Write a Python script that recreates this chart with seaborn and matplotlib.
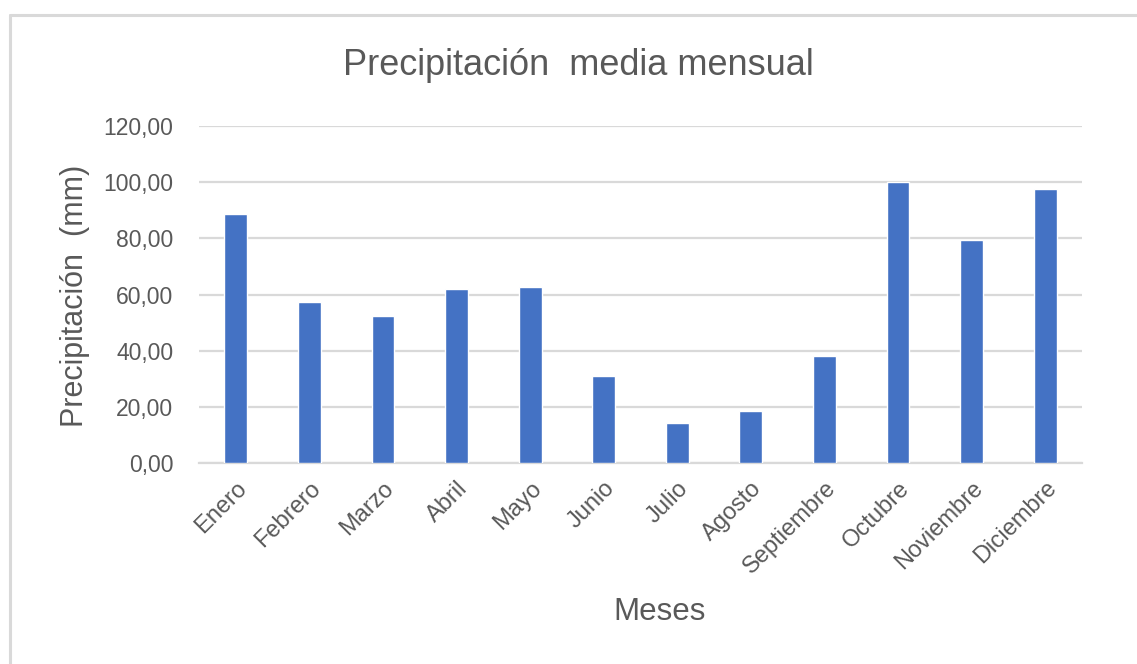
import matplotlib
matplotlib.use("Agg")
import matplotlib.pyplot as plt
from matplotlib import font_manager
from matplotlib.lines import Line2D
import seaborn as sns
import pandas as pd

meses = ["Enero", "Febrero", "Marzo", "Abril", "Mayo", "Junio", "Julio",
         "Agosto", "Septiembre", "Octubre", "Noviembre", "Diciembre"]
precipitacion = [88.7, 57.5, 52.3, 62.1, 62.6, 31.0, 14.3, 18.5, 38.3, 100.1, 79.4, 97.5]
y_ticks = [0, 20, 40, 60, 80, 100, 120]

df = pd.DataFrame({"Mes": meses, "Precipitacion": precipitacion})

sns.set_theme(style="white")
available = {f.name for f in font_manager.fontManager.ttflist}
family = "Liberation Sans Narrow" if "Liberation Sans Narrow" in available else "Liberation Sans"
plt.rcParams["font.family"] = [family, "DejaVu Sans"]

text_color = "#595959"
grid_color = "#D9D9D9"

fig = plt.figure(figsize=(11.37, 6.64), dpi=100)
ax = fig.add_axes([0.175, 0.3023, 0.7766, 0.5079])

sns.barplot(data=df, x="Mes", y="Precipitacion", color="#4472C4", width=0.31,
            saturation=1, ax=ax, zorder=3)

ax.set_xlim(-0.5, len(meses) - 0.5)
ax.set_ylim(0, 120)
ax.set_yticks(y_ticks)
ax.set_yticklabels([f"{v:.2f}".replace(".", ",") for v in y_ticks],
                   fontsize=16.5, color=text_color)
ax.yaxis.grid(True, color=grid_color, linewidth=1.6, zorder=0)
ax.set_axisbelow(True)
ax.tick_params(axis="y", length=0, pad=18.5)
ax.tick_params(axis="x", length=0, pad=10)
ax.set_xticks(range(len(meses)))
ax.set_xticklabels(meses, rotation=45, ha="right", rotation_mode="anchor",
                   fontsize=17, color=text_color)
for side in ["top", "right", "left"]:
    ax.spines[side].set_visible(False)
ax.spines["bottom"].set_color(grid_color)
ax.spines["bottom"].set_linewidth(1.6)

ax.set_xlabel("")
ax.set_ylabel("")
fig.text(0.066, 0.554, "Precipitación  (mm)", rotation=90, ha="center", va="center",
         fontsize=22, color=text_color)
fig.text(0.580, 0.078, "Meses", ha="center", va="center", fontsize=22.5, color=text_color)
fig.text(0.509, 0.901, "Precipitación  media mensual", ha="center", va="center",
         fontsize=26, color=text_color)

# chart frame
fig.add_artist(Line2D([10 / 1137, 1.01], [1 - 15 / 664, 1 - 15 / 664],
                      transform=fig.transFigure, color=grid_color, linewidth=2.2))
fig.add_artist(Line2D([10 / 1137, 10 / 1137], [1 - 15 / 664, -0.01],
                      transform=fig.transFigure, color=grid_color, linewidth=2.2))

fig.savefig("out.png", dpi=100, facecolor="white")
